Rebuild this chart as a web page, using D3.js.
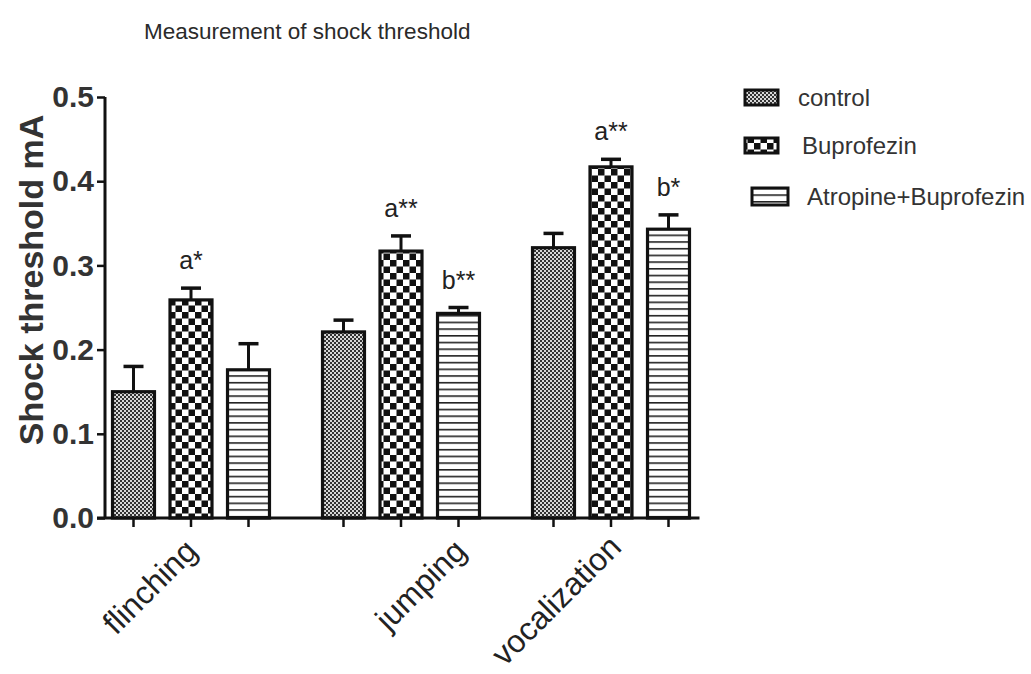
<!DOCTYPE html>
<html><head><meta charset="utf-8">
<script src="https://cdn.jsdelivr.net/npm/d3@7"></script>
<style>body{margin:0;background:#fff}svg{display:block}text{font-family:"Liberation Sans",Arial,sans-serif}</style>
</head><body><svg id="c" width="1031" height="674"></svg>
<script>
const categories = ["flinching", "jumping", "vocalization"];
const series = ["control", "Buprofezin", "Atropine+Buprofezin"];
const controlVals = [0.150, 0.221, 0.321];
const buprofezinVals = [0.259, 0.317, 0.417];
const atropineVals = [0.176, 0.243, 0.343];
const controlErr = [0.030, 0.014, 0.017];
const buprofezinErr = [0.014, 0.018, 0.009];
const atropineErr = [0.031, 0.007, 0.017];
const controlSig = ["", "", ""];
const buprofezinSig = ["a*", "a**", "a**"];
const atropineSig = ["", "b**", "b*"];
const yTicks = [0.0, 0.1, 0.2, 0.3, 0.4, 0.5];

// layout (not data)
const catLabelShift = {flinching: [8, 35], jumping: [67, 35], vocalization: [12, 31]};
const legendLayout = [
  {rx: 745, ry: 90, rw: 33, rh: 15, tx: 798, ty: 106},
  {rx: 745, ry: 138, rw: 33, rh: 15, tx: 802, ty: 154},
  {rx: 752, ry: 188, rw: 36, rh: 17, tx: 807, ty: 205}
];

const vals = [controlVals, buprofezinVals, atropineVals];
const errs = [controlErr, buprofezinErr, atropineErr];
const sigs = [controlSig, buprofezinSig, atropineSig];
const data = [];
categories.forEach((c, ci) => series.forEach((s, si) => data.push({cat: c, ser: s, si, v: vals[si][ci], e: errs[si][ci], sig: sigs[si][ci]})));

const svg = d3.select("#c");
const defs = svg.append("defs");
const p1 = defs.append("pattern").attr("id", "pat0").attr("patternUnits", "userSpaceOnUse").attr("width", 4).attr("height", 4);
p1.append("rect").attr("width", 4).attr("height", 4).attr("fill", "#d8d8d8");
p1.append("rect").attr("width", 2).attr("height", 2).attr("fill", "#333");
p1.append("rect").attr("x", 2).attr("y", 2).attr("width", 2).attr("height", 2).attr("fill", "#333");
const p2 = defs.append("pattern").attr("id", "pat1").attr("patternUnits", "userSpaceOnUse").attr("width", 13).attr("height", 13);
p2.append("rect").attr("width", 13).attr("height", 13).attr("fill", "#fff");
p2.append("rect").attr("width", 6.5).attr("height", 6.5).attr("fill", "#111");
p2.append("rect").attr("x", 6.5).attr("y", 6.5).attr("width", 6.5).attr("height", 6.5).attr("fill", "#111");
const p3 = defs.append("pattern").attr("id", "pat2").attr("patternUnits", "userSpaceOnUse").attr("width", 8).attr("height", 6.7);
p3.append("rect").attr("width", 8).attr("height", 6.7).attr("fill", "#fff");
p3.append("rect").attr("y", 0).attr("width", 8).attr("height", 1.6).attr("fill", "#222");

const x0 = d3.scaleBand().domain(categories).range([86, 716]).padding(0);
const x1 = d3.scaleBand().domain(series).range([18.75, 191.25]).paddingInner(0.27).paddingOuter(0.135);
const y = d3.scaleLinear().domain([0, 0.5]).range([518, 97]);
const axisX = 105;
const cx = d => x0(d.cat) + x1(d.ser) + x1.bandwidth() / 2;

svg.append("text").attr("x", 144).attr("y", 39).attr("font-size", 22.5).attr("fill", "#2a2a2a").text("Measurement of shock threshold");

const g = svg.append("g");
g.selectAll("rect.bar").data(data).join("rect").attr("class", "bar")
  .attr("x", d => x0(d.cat) + x1(d.ser)).attr("width", x1.bandwidth())
  .attr("y", d => y(d.v)).attr("height", d => y(0) - y(d.v))
  .attr("fill", d => `url(#pat${d.si})`).attr("stroke", "#111").attr("stroke-width", 3.2);
g.selectAll("line.err").data(data).join("line").attr("class", "err")
  .attr("x1", cx).attr("x2", cx)
  .attr("y1", d => y(d.v)).attr("y2", d => y(d.v + d.e)).attr("stroke", "#111").attr("stroke-width", 3);
g.selectAll("line.cap").data(data).join("line").attr("class", "cap")
  .attr("x1", d => cx(d) - 10).attr("x2", d => cx(d) + 10)
  .attr("y1", d => y(d.v + d.e)).attr("y2", d => y(d.v + d.e)).attr("stroke", "#111").attr("stroke-width", 3.5);
g.selectAll("text.sig").data(data.filter(d => d.sig)).join("text").attr("class", "sig")
  .attr("x", cx).attr("y", d => y(d.v + d.e) - 19)
  .attr("text-anchor", "middle").attr("font-size", 25).attr("fill", "#222").text(d => d.sig);

const ya = svg.append("g").attr("transform", `translate(${axisX},0)`)
  .call(d3.axisLeft(y).tickValues(yTicks).tickFormat(d3.format(".1f")).tickSize(8).tickPadding(3));
ya.select(".domain").attr("stroke", "#111").attr("stroke-width", 3).attr("d", `M0,${y(0.5)}V${y(0)}`);
ya.selectAll(".tick line").attr("stroke", "#111").attr("stroke-width", 2.5);
ya.selectAll(".tick text").attr("font-size", 30).attr("font-weight", "bold").attr("fill", "#333")
  .attr("font-family", "Liberation Sans, Arial, sans-serif");

const xEnd = x0(categories[2]) + x1(series[2]) + x1.bandwidth() + 10;
svg.append("line").attr("x1", axisX - 8).attr("x2", xEnd).attr("y1", y(0)).attr("y2", y(0)).attr("stroke", "#111").attr("stroke-width", 3);
svg.selectAll("line.xt").data(data).join("line").attr("class", "xt")
  .attr("x1", cx).attr("x2", cx)
  .attr("y1", y(0)).attr("y2", y(0) + 9).attr("stroke", "#111").attr("stroke-width", 2.5);
svg.selectAll("text.cat").data(categories).join("text").attr("class", "cat")
  .attr("transform", d => `translate(${x0(d) + x0.bandwidth() / 2 + catLabelShift[d][0]},${y(0) + catLabelShift[d][1]}) rotate(-45)`)
  .attr("text-anchor", "end").attr("font-size", 32).attr("fill", "#222").text(d => d);

svg.append("text").attr("transform", `translate(43,280) rotate(-90)`)
  .attr("text-anchor", "middle").attr("font-size", 34).attr("font-weight", "bold").attr("fill", "#333").text("Shock threshold mA");

const lg = svg.append("g");
series.forEach((s, i) => {
  const L = legendLayout[i];
  lg.append("rect").attr("x", L.rx).attr("y", L.ry).attr("width", L.rw).attr("height", L.rh)
    .attr("fill", `url(#pat${i})`).attr("stroke", "#111").attr("stroke-width", 3);
  lg.append("text").attr("x", L.tx).attr("y", L.ty).attr("font-size", 24).attr("fill", "#333").text(s);
});
</script></body></html>
